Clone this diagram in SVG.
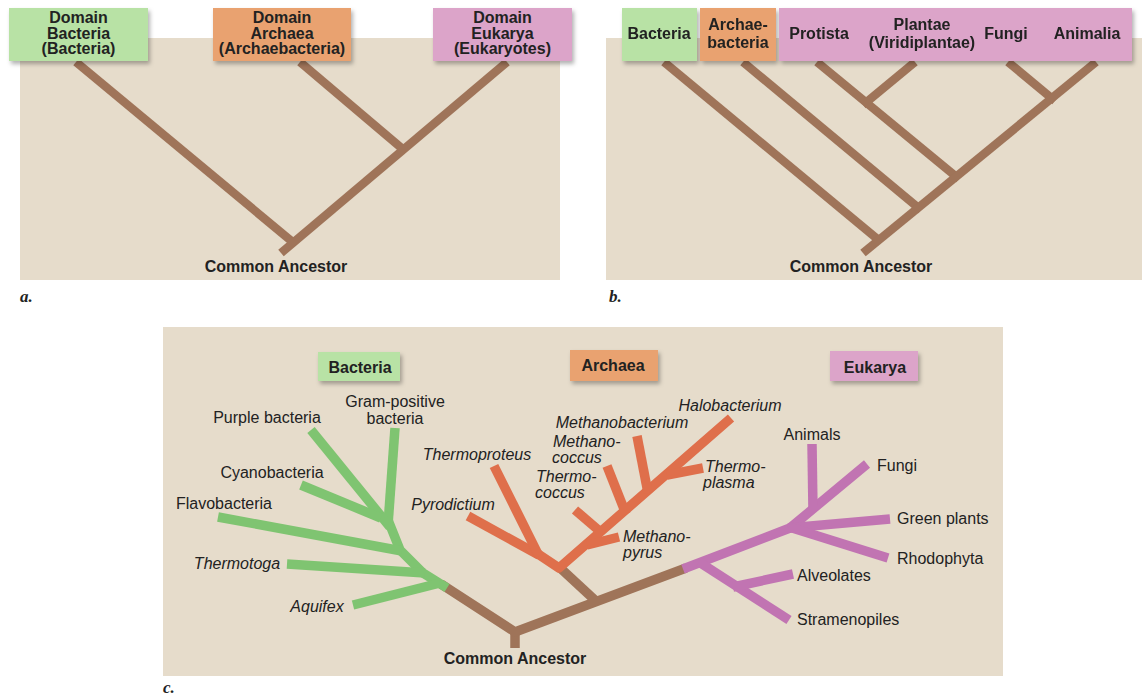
<svg xmlns="http://www.w3.org/2000/svg" width="1142" height="697" viewBox="0 0 1142 697">
<defs>
<filter id="sh" x="-10%" y="-20%" width="125%" height="150%">
<feDropShadow dx="2" dy="3" stdDeviation="2" flood-color="#000" flood-opacity="0.3"/>
</filter>
</defs>
<style>
.bg{fill:#e6dccb}
.br{stroke:#9f7459;stroke-width:8.5;fill:none;stroke-linecap:butt}
.brc{stroke:#9f7459;stroke-width:9.5;fill:none;stroke-linecap:butt;stroke-linejoin:round}
.gr{stroke:#7fc471;stroke-width:9.5;fill:none;stroke-linecap:butt;stroke-linejoin:round}
.or{stroke:#df6f4b;stroke-width:9.5;fill:none;stroke-linecap:butt;stroke-linejoin:round}
.pu{stroke:#c174b2;stroke-width:9.5;fill:none;stroke-linecap:butt;stroke-linejoin:round}
.gbox{fill:#b8e2a5}
.obox{fill:#e9a26f}
.pbox{fill:#dca4c9}
text{font-family:"Liberation Sans",Arial,sans-serif;font-size:16px;fill:#222}
.b{font-weight:bold}
.i{font-style:italic}
.m{text-anchor:middle}
.lab{font-family:"Liberation Serif","Times New Roman",serif;font-weight:bold;font-style:italic;font-size:17px}
</style>
<rect width="1142" height="697" fill="#fff"/>

<!-- Panel a -->
<g id="panel-a">
<rect class="bg" x="20" y="38" width="540" height="242"/>
<g id="a-connectors">
<line class="br" x1="76" y1="62" x2="295" y2="244"/>
<line class="br" x1="507" y1="62" x2="281" y2="253"/>
<line class="br" x1="300" y1="62" x2="405" y2="151"/>
</g>
<g id="a-bacteria"><rect class="gbox" x="9" y="8" width="139" height="53" filter="url(#sh)"/>
<text class="b m" x="78.5" y="23">Domain</text><text class="b m" x="78.5" y="38.5">Bacteria</text><text class="b m" x="78.5" y="54">(Bacteria)</text></g>
<g id="a-archaea"><rect class="obox" x="213" y="8" width="138" height="53" filter="url(#sh)"/>
<text class="b m" x="282" y="23">Domain</text><text class="b m" x="282" y="38.5">Archaea</text><text class="b m" x="282" y="54">(Archaebacteria)</text></g>
<g id="a-eukarya"><rect class="pbox" x="433" y="8" width="139" height="53" filter="url(#sh)"/>
<text class="b m" x="502.5" y="23">Domain</text><text class="b m" x="502.5" y="38.5">Eukarya</text><text class="b m" x="502.5" y="54">(Eukaryotes)</text></g>
<g id="a-ancestor"><text class="b m" x="276" y="272">Common Ancestor</text></g>
<text class="lab" x="20" y="302">a.</text>
</g>

<!-- Panel b -->
<g id="panel-b">
<rect class="bg" x="606" y="38" width="536" height="242"/>
<g id="b-connectors">
<line class="br" x1="664" y1="62" x2="881" y2="242"/>
<line class="br" x1="743" y1="62" x2="921" y2="210"/>
<line class="br" x1="817" y1="62" x2="959" y2="179"/>
<line class="br" x1="915" y1="62" x2="863" y2="105"/>
<line class="br" x1="1008" y1="62" x2="1055" y2="101"/>
<line class="br" x1="1096" y1="62" x2="863" y2="253"/>
</g>
<g filter="url(#sh)">
<g id="b-bacteria"><rect class="gbox" x="622" y="8" width="75" height="53"/><text class="b m" x="659" y="39">Bacteria</text></g>
<g id="b-archaebacteria"><rect class="obox" x="700" y="8" width="76" height="53"/><text class="b m" x="738" y="30">Archae-</text><text class="b m" x="738" y="48">bacteria</text></g>
<g id="b-eukarya"><rect class="pbox" x="779" y="8" width="353" height="53"/>
<text class="b m" x="819" y="39">Protista</text>
<text class="b m" x="922" y="30">Plantae</text><text class="b m" x="922" y="48">(Viridiplantae)</text>
<text class="b m" x="1006" y="39">Fungi</text>
<text class="b m" x="1087" y="39">Animalia</text></g>
</g>
<g id="b-ancestor"><text class="b m" x="861" y="272">Common Ancestor</text></g>
<text class="lab" x="609" y="302">b.</text>
</g>

<!-- Panel c -->
<g id="panel-c">
<rect class="bg" x="163" y="327" width="840" height="349"/>
<g id="c-connectors">
<line class="brc" x1="515" y1="628" x2="515" y2="648"/>
<polyline class="brc" points="441,584 515,632 686,568"/>
<line class="brc" x1="598" y1="603" x2="557" y2="565"/>
<!-- bacteria -->
<polyline class="gr" points="388,520 400,550 423,573 447,588"/>
<line class="gr" x1="395" y1="428" x2="388" y2="525"/>
<line class="gr" x1="311" y1="430" x2="390" y2="527"/>
<line class="gr" x1="301" y1="485" x2="381" y2="518"/>
<line class="gr" x1="218" y1="517" x2="402" y2="551"/>
<line class="gr" x1="287" y1="564" x2="425" y2="573"/>
<line class="gr" x1="353" y1="605" x2="440" y2="583"/>
<!-- archaea -->
<polyline class="or" points="535,552 559,568 731,418"/>
<line class="or" x1="468" y1="516" x2="539" y2="555"/>
<line class="or" x1="494" y1="466" x2="539" y2="556"/>
<line class="or" x1="575" y1="510" x2="603" y2="534"/>
<line class="or" x1="619" y1="537" x2="587" y2="545"/>
<line class="or" x1="607" y1="466" x2="626" y2="514"/>
<line class="or" x1="637" y1="436" x2="648" y2="493"/>
<line class="or" x1="703" y1="468" x2="667" y2="475"/>
<!-- eukarya -->
<polyline class="pu" points="683,569 790,528 867,464"/>
<line class="pu" x1="812" y1="444" x2="813" y2="511"/>
<line class="pu" x1="890" y1="519" x2="788" y2="528"/>
<line class="pu" x1="888" y1="558" x2="789" y2="527"/>
<line class="pu" x1="699" y1="562" x2="789" y2="620"/>
<line class="pu" x1="793" y1="574" x2="733" y2="587"/>
</g>
<g id="c-bacteria-box"><rect class="gbox" x="318" y="352" width="82" height="29" filter="url(#sh)"/><text class="b m" x="360" y="373">Bacteria</text></g>
<g id="c-archaea-box"><rect class="obox" x="570" y="350" width="88" height="31" filter="url(#sh)"/><text class="b m" x="613" y="371">Archaea</text></g>
<g id="c-eukarya-box"><rect class="pbox" x="830" y="351" width="88" height="30" filter="url(#sh)"/><text class="b m" x="875" y="373">Eukarya</text></g>
<g id="c-bacteria-leaves">
<text class="m" x="395" y="407">Gram-positive</text><text class="m" x="395" y="424">bacteria</text>
<text class="m" x="267" y="423">Purple bacteria</text>
<text class="m" x="272" y="478">Cyanobacteria</text>
<text class="m" x="224" y="509">Flavobacteria</text>
<text class="m i" x="237" y="569">Thermotoga</text>
<text class="m i" x="317" y="612">Aquifex</text>
</g>
<g id="c-archaea-leaves">
<text class="m i" x="730" y="411">Halobacterium</text>
<text class="m i" x="622" y="428">Methanobacterium</text>
<text class="i" x="553" y="447">Methano-</text><text class="i" x="552" y="463">coccus</text>
<text class="m i" x="477" y="460">Thermoproteus</text>
<text class="i" x="536" y="482">Thermo-</text><text class="i" x="535" y="498">coccus</text>
<text class="m i" x="453" y="510">Pyrodictium</text>
<text class="i" x="705" y="472">Thermo-</text><text class="i" x="703" y="488">plasma</text>
<text class="i" x="623" y="542">Methano-</text><text class="i" x="623" y="558">pyrus</text>
</g>
<g id="c-eukarya-leaves">
<text class="m" x="812" y="440">Animals</text>
<text x="877" y="471">Fungi</text>
<text x="897" y="524">Green plants</text>
<text x="897" y="564">Rhodophyta</text>
<text x="797" y="581">Alveolates</text>
<text x="797" y="625">Stramenopiles</text>
</g>
<g id="c-ancestor"><text class="b m" x="515" y="664">Common Ancestor</text></g>
<text class="lab" x="163" y="693">c.</text>
</g>
</svg>
